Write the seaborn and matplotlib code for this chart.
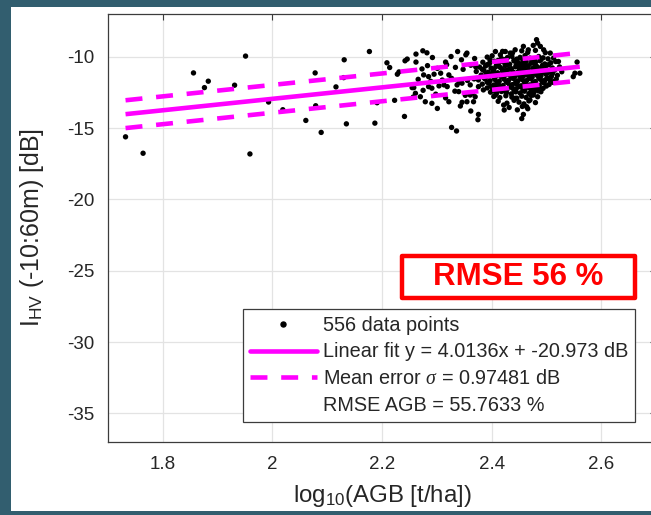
import matplotlib
matplotlib.use("Agg")
import matplotlib.pyplot as plt
import seaborn as sns
import pandas as pd
import numpy as np
from matplotlib.lines import Line2D
from matplotlib.patches import Rectangle

# ---------------- data ----------------
sparse_x = [1.732, 1.764, 1.856, 1.883, 1.876, 1.931, 1.951, 1.959, 1.993, 2.019,
            2.177, 2.131, 2.078, 2.130, 2.116, 2.079, 2.061, 2.089, 2.135, 2.187,
            2.191, 2.209, 2.214, 2.228, 2.231, 2.242, 2.246, 2.223, 2.241, 2.255, 2.257]
sparse_y = [-15.61, -16.76, -11.13, -11.71, -12.16, -11.99, -9.95, -16.81, -13.17, -13.71,
            -9.63, -10.21, -11.13, -11.46, -12.11, -13.43, -14.46, -15.30, -14.70, -14.65,
            -13.22, -10.42, -10.75, -11.22, -11.06, -10.28, -10.16, -13.05, -14.18, -12.16, -12.82]

edge_x = [2.2745, 2.282, 2.262, 2.338, 2.353, 2.262, 2.273, 2.316, 2.276, 2.285,
          2.295, 2.307, 2.322, 2.258, 2.285, 2.291, 2.304, 2.313, 2.319, 2.337,
          2.346, 2.340, 2.261, 2.270, 2.279, 2.291, 2.322, 2.346, 2.327, 2.336,
          2.375, 2.455, 2.423,
          2.355, 2.407, 2.416, 2.425, 2.434, 2.443, 2.361, 2.376, 2.385, 2.361,
          2.370, 2.355, 2.367, 2.407, 2.410, 2.422, 2.443, 2.376,
          2.482, 2.484, 2.476, 2.489, 2.458, 2.467, 2.495, 2.507, 2.513, 2.522,
          2.473, 2.476, 2.470, 2.464, 2.458, 2.501, 2.513,
          2.556, 2.552, 2.561, 2.549,
          2.283, 2.301, 2.318, 2.334, 2.348, 2.362, 2.371,
          2.266, 2.289, 2.310, 2.327, 2.341, 2.356, 2.368,
          2.275, 2.298, 2.316, 2.333, 2.352, 2.365,
          2.292, 2.326, 2.345, 2.369,
          2.301, 2.343, 2.362]
edge_y = [-9.58, -9.72, -9.81, -9.63, -9.86, -10.37, -10.85, -10.37, -11.27, -11.39,
          -11.22, -11.15, -11.27, -12.16, -12.09, -12.20, -12.04, -11.97, -12.09, -11.97,
          -11.85, -12.44, -12.56, -12.80, -13.15, -13.26, -13.15, -13.19, -14.95, -15.20,
          -14.41, -14.33, -13.73,
          -9.74, -9.63, -9.86, -9.63, -9.74, -9.51, -11.97, -12.09, -12.32, -12.68,
          -12.80, -13.15, -13.15, -12.68, -12.32, -13.38, -12.91, -14.04,
          -8.80, -9.04, -9.20, -9.27, -9.27, -9.51, -9.51, -9.74, -10.09, -10.33,
          -12.20, -12.68, -13.03, -13.50, -14.04, -11.50, -11.74,
          -10.37, -11.15, -11.15, -11.39,
          -10.62, -10.81, -10.55, -10.74, -10.88, -10.59, -10.70,
          -11.58, -11.72, -11.63, -11.51, -11.79, -11.66, -11.55,
          -12.35, -12.62, -12.88, -12.41, -12.70, -12.52,
          -10.05, -9.98, -10.21, -10.12,
          -13.62, -13.45, -13.80]

cluster_x = [2.392, 2.401, 2.418, 2.429, 2.437, 2.446, 2.452, 2.461, 2.470, 2.478, 2.486, 2.494, 2.503,
             2.384, 2.396, 2.405, 2.413, 2.421, 2.433, 2.441, 2.449, 2.456, 2.463, 2.472, 2.480, 2.488, 2.497, 2.508, 2.517,
             2.378, 2.389, 2.399, 2.408, 2.416, 2.425, 2.436, 2.444, 2.451, 2.459, 2.467, 2.475, 2.483, 2.491, 2.500, 2.511, 2.524,
             2.372, 2.386, 2.394, 2.403, 2.411, 2.420, 2.428, 2.439, 2.447, 2.455, 2.462, 2.470, 2.478, 2.486, 2.495, 2.504, 2.515, 2.528,
             2.381, 2.392, 2.401, 2.409, 2.418, 2.426, 2.434, 2.443, 2.450, 2.458, 2.466, 2.474, 2.482, 2.490, 2.499, 2.509, 2.520,
             2.376, 2.388, 2.397, 2.406, 2.414, 2.423, 2.431, 2.440, 2.448, 2.456, 2.464, 2.472, 2.480, 2.489, 2.497, 2.506, 2.518,
             2.383, 2.395, 2.404, 2.412, 2.421, 2.430, 2.438, 2.446, 2.454, 2.462, 2.470, 2.479, 2.487, 2.496, 2.505,
             2.392, 2.402, 2.411, 2.419, 2.428, 2.437, 2.445, 2.453, 2.461, 2.469, 2.478, 2.486, 2.494,
             2.398, 2.409, 2.418, 2.427, 2.436, 2.444, 2.452, 2.460, 2.468, 2.477, 2.490,
             2.404, 2.415, 2.426, 2.437, 2.446, 2.455, 2.463, 2.472, 2.484,
             2.412, 2.428, 2.441, 2.450, 2.459, 2.468, 2.480,
             2.432, 2.447, 2.456, 2.466,
             2.420, 2.438, 2.455, 2.466, 2.480, 2.498]
cluster_y = [-10.02, -9.93, -10.12, -10.05, -9.97, -10.16, -10.04, -9.91, -10.09, -10.18, -9.98, -10.07, -10.14,
             -10.38, -10.47, -10.31, -10.44, -10.36, -10.52, -10.29, -10.41, -10.49, -10.34, -10.45, -10.39, -10.27, -10.50, -10.42, -10.33,
             -10.72, -10.64, -10.79, -10.68, -10.75, -10.61, -10.83, -10.70, -10.66, -10.77, -10.63, -10.81, -10.69, -10.74, -10.60, -10.78, -10.71,
             -11.03, -10.95, -11.08, -10.98, -11.12, -11.01, -10.93, -11.06, -11.10, -10.97, -11.04, -11.13, -10.96, -11.07, -11.00, -11.09, -10.94, -11.05,
             -11.28, -11.36, -11.22, -11.33, -11.41, -11.25, -11.31, -11.38, -11.24, -11.35, -11.29, -11.43, -11.27, -11.34, -11.21, -11.39, -11.30,
             -11.62, -11.55, -11.68, -11.59, -11.71, -11.57, -11.64, -11.52, -11.69, -11.60, -11.66, -11.54, -11.73, -11.58, -11.65, -11.61, -11.56,
             -11.92, -11.85, -11.98, -11.88, -12.01, -11.83, -11.95, -11.90, -12.03, -11.86, -11.97, -11.89, -12.00, -11.84, -11.94,
             -12.18, -12.26, -12.13, -12.22, -12.30, -12.16, -12.24, -12.11, -12.28, -12.19, -12.25, -12.14, -12.21,
             -12.48, -12.56, -12.43, -12.52, -12.60, -12.46, -12.54, -12.41, -12.58, -12.50, -12.45,
             -12.78, -12.86, -12.73, -12.83, -12.90, -12.76, -12.85, -12.71, -12.80,
             -13.12, -13.25, -13.05, -13.18, -13.30, -13.09, -13.21,
             -13.55, -13.72, -13.48, -13.64,
             -9.62, -9.74, -9.58, -9.69, -9.55, -9.71]

core_x = [2.397, 2.412, 2.425, 2.441, 2.457, 2.474, 2.490,
          2.392, 2.409, 2.429, 2.445, 2.460, 2.479, 2.493, 2.504,
          2.383, 2.404, 2.420, 2.432, 2.451, 2.466, 2.482, 2.499, 2.509,
          2.390, 2.407, 2.424, 2.443, 2.459, 2.475, 2.491, 2.511,
          2.386, 2.405, 2.422, 2.437, 2.453, 2.469, 2.486, 2.503,
          2.392, 2.410, 2.427, 2.444, 2.460, 2.476, 2.493, 2.512,
          2.399, 2.416, 2.433, 2.450, 2.466, 2.482, 2.500,
          2.405, 2.423, 2.441, 2.457, 2.473, 2.485]
core_y = [-10.22, -10.25, -10.19, -10.24, -10.21, -10.26, -10.20,
          -10.55, -10.58, -10.54, -10.57, -10.56, -10.53, -10.59, -10.55,
          -10.88, -10.86, -10.89, -10.87, -10.85, -10.88, -10.86, -10.87, -10.90,
          -11.17, -11.19, -11.16, -11.18, -11.17, -11.20, -11.16, -11.18,
          -11.47, -11.49, -11.46, -11.48, -11.47, -11.49, -11.46, -11.48,
          -11.78, -11.80, -11.77, -11.79, -11.78, -11.81, -11.77, -11.79,
          -12.06, -12.08, -12.05, -12.07, -12.06, -12.09, -12.05,
          -12.36, -12.38, -12.35, -12.37, -12.36, -12.39]

fit_slope = 4.0136
fit_intercept = -20.973
sigma_err = 0.97481

x_ticks = [1.8, 2.0, 2.2, 2.4, 2.6]
x_ticklabels = ["1.8", "2", "2.2", "2.4", "2.6"]
y_ticks = [-35, -30, -25, -20, -15, -10]
legend_labels = ["556 data points",
                 "Linear fit y = 4.0136x + -20.973 dB",
                 r"Mean error $\sigma$ = 0.97481 dB",
                 "RMSE AGB = 55.7633 %"]
badge_text = "RMSE 56 %"

# ---------------- style ----------------
sns.set_theme(style="white")
plt.rcParams["font.family"] = ["Liberation Sans", "DejaVu Sans"]
plt.rcParams["mathtext.fontset"] = "custom"
plt.rcParams["mathtext.rm"] = "Liberation Sans"
plt.rcParams["mathtext.it"] = "Liberation Serif:italic"
plt.rcParams["mathtext.bf"] = "Liberation Sans:bold"
plt.rcParams["axes.unicode_minus"] = False

txt_col = "#262626"
magenta = "#ff00ff"
teal = "#325e6f"

df = pd.DataFrame({"x": sparse_x + edge_x + cluster_x + core_x,
                   "y": sparse_y + edge_y + cluster_y + core_y})

fig = plt.figure(figsize=(6.51, 5.15), dpi=100, facecolor="white")
ax = fig.add_axes([108 / 651, 1 - 442 / 515, 548 / 651, 428 / 515])
ax.set_facecolor("white")

sns.scatterplot(data=df, x="x", y="y", ax=ax, color="black", s=15,
                edgecolor="none", linewidth=0, zorder=3, legend=False)

xfit = np.array([df["x"].min(), df["x"].max()])
yfit = fit_slope * xfit + fit_intercept
ax.plot(xfit, yfit, color=magenta, lw=3.3, solid_capstyle="butt", zorder=4)
for s in (sigma_err, -sigma_err):
    ax.plot(xfit, yfit + s, color=magenta, lw=3.3, linestyle=(0, (3.7, 3.0)),
            dash_capstyle="butt", zorder=4)

ax.set_xlim(1.7, 2.7)
ax.set_ylim(-37, -7)
ax.set_xticks(x_ticks)
ax.set_xticklabels(x_ticklabels)
ax.set_yticks(y_ticks)
ax.grid(True, color="#e3e3e3", lw=0.9, zorder=0)
ax.set_axisbelow(True)
for sp in ax.spines.values():
    sp.set_color("#3c3c3c")
    sp.set_linewidth(0.9)
ax.tick_params(direction="in", length=4, width=0.8, color="#3c3c3c",
               labelsize=13.5, labelcolor=txt_col, top=True, right=True, pad=10)

ax.set_xlabel(r"log$_{10}$(AGB [t/ha])", fontsize=17.3, color=txt_col)
ax.xaxis.set_label_coords(0.5, -0.095)
ax.set_ylabel(r"I$_{\mathrm{HV}}$ (-10:60m) [dB]", fontsize=18, color=txt_col)
ax.yaxis.set_label_coords(-0.114, 0.5)

handles = [Line2D([], [], color="black", marker="o", markersize=3.6, linestyle="none"),
           Line2D([], [], color=magenta, lw=3.3),
           Line2D([], [], color=magenta, lw=3.3, linestyle=(0, (3.7, 3.0))),
           Line2D([], [], color="none", lw=0)]
leg = ax.legend(handles, legend_labels, loc="upper left",
                bbox_to_anchor=(243 / 651, 1 - 309 / 515), bbox_transform=fig.transFigure,
                fontsize=14.3, frameon=True, fancybox=False, framealpha=1,
                edgecolor="#3c3c3c", handlelength=3.4, handletextpad=0.3,
                labelspacing=0.4, borderpad=0.33, borderaxespad=0)
leg.get_frame().set_linewidth(0.9)
for t in leg.get_texts():
    t.set_color(txt_col)
leg.set_zorder(10)

# red badge
fig.add_artist(Rectangle((402 / 651, 1 - 298 / 515), 233 / 651, 42 / 515,
                         transform=fig.transFigure, facecolor="white", edgecolor="#ff0000",
                         lw=3.2, joinstyle="round", zorder=20))
fig.text(518 / 651, 1 - 277 / 515, badge_text, color="#ff0000", fontsize=22.5,
         fontweight="bold", ha="center", va="center", zorder=21)

# slide frame
fig.add_artist(Rectangle((0, 0), 11 / 651, 1, transform=fig.transFigure,
                         facecolor=teal, edgecolor="none", zorder=30))
fig.add_artist(Rectangle((0, 1 - 7 / 515), 1, 7 / 515, transform=fig.transFigure,
                         facecolor=teal, edgecolor="none", zorder=30))
fig.add_artist(Rectangle((0, 0), 1, 4 / 515, transform=fig.transFigure,
                         facecolor=teal, edgecolor="none", zorder=30))

fig.savefig("out.png", dpi=100, facecolor="white")
